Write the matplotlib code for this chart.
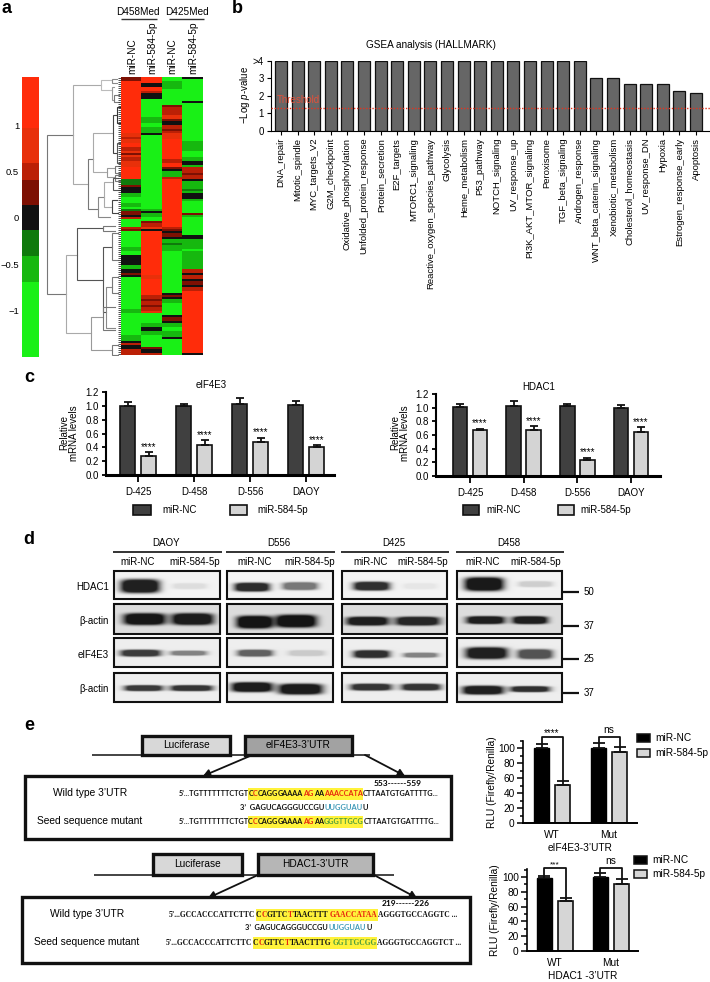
import numpy as np
import matplotlib
matplotlib.use('Agg')
import matplotlib.pyplot as plt
from matplotlib.colors import ListedColormap, BoundaryNorm
from matplotlib.patches import Rectangle
from matplotlib.font_manager import FontProperties, findfont, get_font
from matplotlib.ft2font import LoadFlags

plt.rcParams['font.family'] = ['Liberation Sans', 'DejaVu Sans']
plt.rcParams['mathtext.fontset'] = 'custom'
plt.rcParams['mathtext.it'] = 'Liberation Sans:italic'
plt.rcParams['mathtext.rm'] = 'Liberation Sans'
plt.rcParams['axes.unicode_minus'] = True

W, H = 710, 982
fig = plt.figure(figsize=(W / 100, H / 100), dpi=100)

# ---------------- data: panel a
R, r, m, d, k, g, G, L = 1.25, 0.8, 0.5, 0.3, 0.0, -0.3, -0.55, -1.0
heat_col1 = [(d,2),(R,26),(r,2),(m,1),(r,2),(R,2),(m,2),(r,1),(d,1),(r,1),(m,2),(r,3),(R,6),
             (g,3),(d,1),(k,3),(G,2),(L,3),(G,2),(L,1),(g,1),(d,2),(k,1),(m,1),(L,4),(m,1),(d,1),
             (L,8),(G,2),(L,2),(k,5),(G,2),(k,2),(d,1),(k,1),(L,16),(G,2),(L,11),(G,3),(k,1),(m,1),(k,2),(m,3)]
heat_col2 = [(R,3),(k,2),(R,2),(m,1),(k,3),(L,9),(G,3),(L,2),(G,3),(k,1),(L,37),(G,1),(k,1),(G,2),(L,2),
             (d,1),(m,2),(r,1),(k,1),(R,22),(r,2),(R,8),(m,2),(d,1),(m,2),(d,1),(m,2),(r,1),(L,5),(G,2),
             (k,2),(G,2),(L,6),(d,1),(k,2),(m,1)]
heat_col3 = [(L,2),(G,4),(L,2),(L,4),(L,2),(d,1),(m,4),(r,2),(d,1),(k,2),(m,2),(d,1),(m,1),(r,3),(R,10),(m,2),
             (R,2),(d,1),(k,1),(G,3),(m,1),(R,24),(m,1),(d,1),(k,1),(d,2),(k,1),(G,2),(g,1),(G,3),(L,21),(k,1),
             (d,1),(k,1),(G,2),(L,6),(k,1),(d,2),(k,1),(G,2),(L,2),(G,3),(k,1),(L,8)]
heat_col4 = [(k,1),(L,1),(L,10),(k,1),(L,19),(G,5),(L,3),(G,2),(k,2),(G,1),(m,3),(d,1),(m,2),(k,1),(G,1),(G,3),
             (g,1),(G,1),(k,3),(G,1),(L,6),(d,1),(G,1),(L,9),(k,2),(G,5),(L,1),(G,9),(m,2),(k,1),(m,2),(k,1),
             (d,2),(k,1),(m,2),(R,31),(k,1)]
heat_cols = [heat_col1, heat_col2, heat_col3, heat_col4]
cbar_edges = [-1.5, -0.69, -0.41, -0.13, 0.14, 0.41, 0.59, 0.97, 1.52]
cbar_colors = ['#19f016', '#16b80f', '#0f7a0c', '#111111', '#7d1003', '#bb2006', '#e8300a', '#ff2c0a']
cbar_ticks = [1, 0.5, 0, -0.5, -1]
cbar_labels = ['1', '0.5', '0', '\u22120.5', '\u22121']
heat_names = ['miR-NC', 'miR-584-5p', 'miR-NC', 'miR-584-5p']
# dendrogram brackets: parent height, top child y, bottom child y, top child height, bottom child height, shade
dendro = [(142,405,882,220,197,'#777777'),(220,255,553,303,265,'#aaaaaa'),(303,240,270,335,335,'#bbbbbb'),
          (335,236,248,352,352,'#888888'),(335,262,300,342,342,'#999999'),(342,285,305,358,358,'#777777'),
          (265,478,628,280,293,'#777777'),(280,400,515,340,320,'#aaaaaa'),(340,345,460,350,352,'#444444'),
          (350,320,370,360,360,'#333333'),(352,430,490,360,360,'#555555'),(320,505,530,345,345,'#999999'),
          (345,498,520,360,360,'#777777'),(345,525,542,360,360,'#777777'),(293,590,650,313,330,'#888888'),
          (313,545,620,340,335,'#aaaaaa'),(340,535,570,355,360,'#555555'),(335,600,640,350,355,'#444444'),
          (197,765,998,230,273,'#aaaaaa'),(230,685,840,310,310,'#555555'),(310,678,692,345,345,'#777777'),
          (310,740,935,335,318,'#555555'),(335,700,780,355,355,'#777777'),(318,860,985,335,345,'#888888'),
          (335,830,880,355,355,'#777777'),(273,950,1050,310,335,'#999999'),(310,920,990,345,345,'#777777'),
          (335,1035,1065,355,355,'#777777')]

# ---------------- data: panel b
gsea_names = ['DNA_repair','Mitotic_spindle','MYC_targets_V2','G2M_checkpoint','Oxidative_phosphorylation',
              'Unfolded_protein_response','Protein_secretion','E2F_targets','MTORC1_signaling',
              'Reactive_oxygen_species_pathway','Glycolysis','Heme_metabolism','P53_pathway','NOTCH_signaling',
              'UV_response_up','PI3K_AKT_MTOR_signaling','Peroxisome','TGF_beta_signaling','Androgen_response',
              'WNT_beta_catenin_signaling','Xenobiotic_metabolism','Cholesterol_homeostasis','UV_response_DN',
              'Hypoxia','Estrogen_response_early','Apoptosis']
gsea_vals = [4]*19 + [3.0, 3.0, 2.7, 2.7, 2.7, 2.28, 2.15]
threshold = 1.3

# ---------------- data: panel c
lines_c = ['D-425', 'D-458', 'D-556', 'DAOY']
eif_nc = [1.0, 1.0, 1.02, 1.01]
eif_nc_err = [0.05, 0.02, 0.09, 0.06]
eif_mir = [0.28, 0.43, 0.48, 0.41]
eif_mir_err = [0.05, 0.07, 0.06, 0.02]
hdac_nc = [1.01, 1.02, 1.02, 1.0]
hdac_nc_err = [0.05, 0.08, 0.04, 0.04]
hdac_mir = [0.67, 0.67, 0.24, 0.65]
hdac_mir_err = [0.02, 0.06, 0.03, 0.06]

# ---------------- data: panel e
rlu_groups = ['WT', 'Mut']
e_eif_nc, e_eif_nc_err = [100, 100], [6, 7]
e_eif_mir, e_eif_mir_err = [51, 95], [6, 7]
e_hdac_nc, e_hdac_nc_err = [99, 100], [3, 5]
e_hdac_mir, e_hdac_mir_err = [67, 91], [4, 6]

# ---------------- data: panel d, band darkness per blot (left, right, y, half width, half height, darkness)
blot_columns = ['DAOY', 'D556', 'D425', 'D458']
blot_rows = ['HDAC1', '\u03b2-actin', 'eIF4E3', '\u03b2-actin']
blot_x = [(114, 220), (227, 333), (342, 447), (457, 562)]
blot_y = [(571, 599), (604, 634), (638, 667), (673, 702)]
blot_bg = [0.95, 0.87, 0.93, 0.93]
bands = [
 [[(120,160,586,7,.82),(172,207,586,3,.08)],[(234,270,587,4.5,.78),(282,318,586,4,.48)],
  [(353,390,586,4.5,.76),(403,437,586,3,.05)],[(464,504,584,7,.85),(518,553,584,3,.14)]],
 [[(123,166,619,6,.78),(171,214,619,6,.76)],[(236,273,622,6.5,.8),(275,317,621,6.5,.8)],
  [(346,389,621,4.5,.75),(395,440,621,4.5,.72)],[(466,505,620,4,.75),(512,548,620,4,.75)]],
 [[(120,161,653,3.5,.7),(170,207,653,2.5,.42)],[(237,273,653,3.5,.55),(288,325,653,3,.14)],
  [(353,390,654,4,.74),(403,438,655,2.5,.42)],[(465,508,653,6,.8),(517,553,654,5,.6)]],
 [[(124,163,688,3,.7),(170,213,688,3,.72)],[(231,273,687,5,.82),(278,323,689,5.5,.82)],
  [(350,392,687,3.5,.72),(401,441,687,3.5,.72)],[(462,504,690,4.5,.8),(510,550,689,3,.74)]],
]

# ---------------- data: panel e sequences (text, colour, highlighted)
K, RD, GR, BL = '#111111', '#e8260f', '#4f9e3c', '#3f9ab8'
seq_e_wt = [("5\u2019...TGTTTTTTTCTGT",K,0),("C",K,1),("C",RD,1),("CAGG",K,1),("GAAAA",K,1),("AG",RD,1),("AA",K,1),
            ("AAACCATA",RD,1),("CTTAATGTGATTTTG...",K,0)]
seq_e_mu = [("5\u2019...TGTTTTTTTCTGT",K,0),("C",K,1),("C",RD,1),("CAGG",K,1),("GAAAA",K,1),("AG",RD,1),("AA",K,1),
            ("GGGTTGCG",GR,1),("CTTAATGTGATTTTG...",K,0)]
seq_mir = [("3\u2019  GAGUCAGGGUCCGU",K,0),("UUGGUAU",BL,0),("U",K,0)]
seq_h_wt = [("5\u2019...GCCACCCATTCTTC",K,0),("C",K,1),("C",RD,1),("GTTC",K,1),("T",RD,1),("TAACTTT",K,1),
            ("GAACCATAA",RD,1),("AGGGTGCCAGGTC ...",K,0)]
seq_h_mu = [("5\u2019...GCCACCCATTCTTC",K,0),("C",K,1),("C",RD,1),("GTTC",K,1),("T",RD,1),("TAACTTTG",K,1),
            ("GGTTGCGG",GR,1),("AGGGTGCCAGGTCT ...",K,0)]


def axpx(l, t, r, b, **kw):
    return fig.add_axes([l / W, 1 - b / H, (r - l) / W, (b - t) / H], **kw)


ov = axpx(0, 0, W, H, zorder=5)
ov.patch.set_alpha(0)
ov.axis('off')


def T(x, y, s, ha='center', va='center', size=7, **kw):
    return ov.text(x, y, s, ha=ha, va=va, fontsize=size, **kw)


def hline(x0, x1, y, lw=1.5, c='#222222'):
    ov.plot([x0, x1], [y, y], color=c, lw=lw, solid_capstyle='butt')


def box(x0, y0, x1, y1, fc='none', lw=2.2, ec='#111111', z=3):
    ov.add_patch(Rectangle((x0, y0), x1 - x0, y1 - y0, fc=fc, ec=ec, lw=lw, zorder=z))


for s, x, y in [('a', 6, 8), ('b', 237, 8), ('c', 29, 378), ('d', 29, 539), ('e', 29, 725)]:
    T(x, y, s, size=13, fontweight='bold')

# ---------------- panel a
cmap = ListedColormap(cbar_colors)
norm = BoundaryNorm(cbar_edges, cmap.N)
acb = axpx(22, 77, 39, 357)
centres = (np.array(cbar_edges[:-1]) + np.array(cbar_edges[1:])) / 2
acb.pcolormesh([0, 1], cbar_edges, centres.reshape(-1, 1), cmap=cmap, norm=norm)
acb.set_ylim(-1.5, 1.52)
acb.set_xticks([])
acb.set_yticks(cbar_ticks, cbar_labels, fontsize=6.8)
acb.tick_params(axis='y', length=0, pad=2)
for sp in acb.spines.values():
    sp.set_visible(False)

N_ROWS = 139
mat = []
for col in heat_cols:
    v = np.repeat([a for a, _ in col], [b for _, b in col])
    v = np.concatenate([v, np.full(max(0, N_ROWS - len(v)), v[-1])])[:N_ROWS]
    mat.append(v)
mat = np.array(mat).T
ah = axpx(121, 77, 203, 355)
ah.imshow(mat, cmap=cmap, norm=norm, aspect='auto', interpolation='nearest')
ah.axis('off')

ad = axpx(40, 77, 121, 356)
ad.set_xlim(120, 363)
ad.set_ylim(1068, 231)
ad.axis('off')
for x, yt, yb, xt, xb, c in dendro:
    ad.plot([xt, x, x, xb], [yt, yt, yb, yb], color=c, lw=0.8, solid_joinstyle='miter')
ad.hlines(232 + 6 * np.arange(N_ROWS) + 3, 354, 363, color='#333333', lw=0.6)

T(138, 12, 'D458Med', size=7.2)
T(187, 12, 'D425Med', size=7.2)
hline(121, 157, 19, 1.0, '#333333')
hline(169, 204, 19, 1.0, '#333333')
for x, s in zip([132, 152, 172, 193], heat_names):
    T(x, 74, s, va='bottom', rotation=90, size=7.2)

# ---------------- panel b
ab = axpx(271, 61, 710, 130.7)
xb = np.arange(len(gsea_vals))
ab.bar(xb, gsea_vals, width=0.72, color='#666666', edgecolor='#111111', linewidth=0.9)
ab.set_xlim(-0.6, 25.84)
ab.set_ylim(0, 4)
ab.axhline(threshold, color='#e3331f', lw=1.0, ls=(0, (1, 1.2)), zorder=4)
ab.text(-0.28, 1.78, 'Threshold', color='#e3503a', fontsize=7, va='center')
ab.set_yticks([0, 1, 2, 3, 4], ['0', '1', '2', '3', '>4'], fontsize=7)
ab.set_xticks(xb, gsea_names, rotation=90, fontsize=6.8)
ab.tick_params(axis='both', length=3, width=0.8, pad=2)
ab.set_title('GSEA analysis (HALLMARK)', fontsize=7.2, pad=9, x=0.365)
for s in ['top', 'right']:
    ab.spines[s].set_visible(False)
T(245, 95, '\u2212Log $p$-value', rotation=90, size=7)


# ---------------- panel c
def bars_c(box_px, title, nc, nce, mir, mire, xlim, off, star_off):
    ax = axpx(*box_px)
    x = np.arange(4)
    ax.bar(x - off, nc, 0.27, color='#404040', edgecolor='#111111', lw=1.2)
    ax.bar(x + off, mir, 0.27, color='#d4d4d4', edgecolor='#111111', lw=1.2)
    ax.errorbar(x - off, nc, yerr=[np.zeros(4), nce], fmt='none', ecolor='#111111', elinewidth=1.3, capsize=3, capthick=1.3)
    ax.errorbar(x + off, mir, yerr=[np.zeros(4), mire], fmt='none', ecolor='#111111', elinewidth=1.3, capsize=3, capthick=1.3)
    for i in range(4):
        ax.text(x[i] + off, mir[i] + mire[i] + star_off, '****', ha='center', va='center', fontsize=7)
    ax.set_xlim(*xlim)
    ax.set_ylim(0, 1.2)
    ax.set_yticks(np.arange(0, 1.21, 0.2), [f'{v:.1f}' for v in np.arange(0, 1.21, 0.2)], fontsize=7)
    ax.set_xticks(x, lines_c, fontsize=7)
    ax.tick_params(axis='y', length=3, width=1.3, pad=2)
    ax.tick_params(axis='x', length=5, width=1.3, pad=4)
    ax.set_title(title, fontsize=7, pad=3, x=0.46)
    for s in ['top', 'right']:
        ax.spines[s].set_visible(False)
    ax.spines['left'].set_linewidth(1.5)
    ax.spines['bottom'].set_linewidth(2.2)
    return ax


bars_c((106, 392, 334, 475), 'eIF4E3', eif_nc, eif_nc_err, eif_mir, eif_mir_err, (-0.58, 3.5), 0.188, 0.08)
bars_c((436, 394, 660, 476), 'HDAC1', hdac_nc, hdac_nc_err, hdac_mir, hdac_mir_err, (-0.633, 3.54), 0.186, 0.08)
T(69, 433, 'Relative\nmRNA levels', rotation=90, size=7, linespacing=1.05)
T(400, 433, 'Relative\nmRNA levels', rotation=90, size=7, linespacing=1.05)
for x0, x1, c, tx, s in [(133, 151, '#404040', 162, 'miR-NC'), (230, 247, '#d4d4d4', 257, 'miR-584-5p'),
                         (463, 479, '#404040', 486, 'miR-NC'), (558, 574, '#d4d4d4', 580, 'miR-584-5p')]:
    box(x0, 505, x1, 515, fc=c, lw=1.2)
    T(tx, 510, s, ha='left', size=7)

# ---------------- panel d
for j, (name, (x0, x1)) in enumerate(zip(blot_columns, blot_x)):
    T((x0 + x1) / 2 - 1, 543, name, size=7)
    hline(x0 - 1, x1 + 2, 552, 1.4, '#333333')
    for i, (y0, y1) in enumerate(blot_y):
        xs = np.arange(x0, x1, 0.25)
        ys = np.arange(y0, y1, 0.25)
        XX, YY = np.meshgrid(xs, ys)
        img = np.full(XX.shape, blot_bg[i], dtype=float)
        for a, b, yc, hh, dk in bands[i][j]:
            xc, hw = (a + b) / 2, (b - a) / 2
            core = np.exp(-(np.abs((XX - xc) / (hw * 0.95)) ** 4 + np.abs((YY - yc) / (hh * 0.95)) ** 4))
            img -= dk * np.clip(1.7 * core, 0, 1)
        ov.imshow(np.clip(img, 0.08, 1), cmap='gray', vmin=0, vmax=1, extent=(x0, x1, y1, y0),
                  aspect='auto', interpolation='bilinear', zorder=1)
        box(x0, y0, x1, y1, lw=1.5)
for x, s in zip([138, 195, 255, 310, 371, 423, 483, 536], ['miR-NC', 'miR-584-5p'] * 4):
    T(x, 562, s, size=7)
for y, s in zip([587, 621, 655, 689], blot_rows):
    T(109, y, s, ha='right', size=7)
for y, s in zip([592, 626, 659, 693], ['50', '37', '25', '37']):
    hline(563, 579, y, 1.6, '#111111')
    T(584, y, s, ha='left', size=7)

# ---------------- panel e: constructs
for (x0, x1, y0, y1, fc, s) in [(142, 230, 736, 755, '#d8d8d8', 'Luciferase'), (245, 352, 736, 755, '#a2a2a2', 'eIF4E3-3\u2019UTR'),
                                (153, 242, 854, 875, '#d8d8d8', 'Luciferase'), (258, 373, 854, 875, '#b6b6b6', 'HDAC1-3\u2019UTR')]:
    box(x0, y0, x1, y1, fc=fc, lw=2.4, z=4)
    T((x0 + x1) / 2, (y0 + y1) / 2 - 0.5, s, size=7.3, zorder=5)
hline(92, 370, 755, 1.1, '#111111')
hline(94, 394, 875, 1.1, '#111111')
for p0, p1 in [((250, 756), (203, 776)), ((365, 755), (405, 776)), ((258, 875), (208, 898)), ((374, 875), (417, 898))]:
    ov.annotate('', xy=p1, xytext=p0, arrowprops=dict(arrowstyle='-|>,head_width=0.22,head_length=0.4', color='#111111',
                                                     lw=1.3, shrinkA=0, shrinkB=0), zorder=6)
box(25, 776, 451, 839, lw=2.4)
box(22, 897, 470, 963, lw=2.4)
T(90, 793, 'Wild type 3\u2019UTR', size=7.4)
T(89.5, 821, 'Seed sequence mutant', size=7.4)
T(87, 914, 'Wild type 3\u2019UTR', size=7.4)
T(87, 942, 'Seed sequence mutant', size=7.4)
T(397.5, 783, '553------559', size=6, family='Lato', fontweight='bold')
T(405.5, 903, '219------226', size=6, family='Lato', fontweight='bold')


def seq(segs, x0, x1, y, family, hl_h=12):
    fp = FontProperties(family=family, weight='bold')
    font = get_font(findfont(fp))
    font.set_size(10, 100)
    adv = lambda s: sum(font.load_char(ord(c), flags=LoadFlags.NO_HINTING).linearHoriAdvance / 65536 for c in s)
    total = sum(adv(s) for s, _, _ in segs)
    size = 10 * (x1 - x0) / total
    scale = size / 10
    x = x0
    for s, c, hl in segs:
        w = adv(s) * scale
        if hl:
            ov.add_patch(Rectangle((x, y - hl_h / 2), w, hl_h, fc='#fff23a', ec='none', zorder=1.5))
        ov.text(x, y, s, color=c, fontsize=size, family=family, fontweight='bold', ha='left', va='center', zorder=2)
        x += w


seq(seq_e_wt, 179, 438, 794, 'Lato')
seq(seq_mir, 240, 368, 808, 'Lato')
seq(seq_e_mu, 178.5, 439, 822, 'Lato')
seq(seq_h_wt, 169, 458, 915, 'Liberation Serif')
seq(seq_mir, 245, 372, 928, 'Lato')
seq(seq_h_mu, 166, 462, 943, 'Liberation Serif')


# ---------------- panel e: bars
def bars_e(box_px, nc, nce, mir, mire, xlim, off, ymax, top, sig, sig_size, xlabel):
    ax = axpx(*box_px)
    x = np.arange(2)
    ax.bar(x - off, nc, 0.263, color='#000000', edgecolor='#000000', lw=1)
    ax.bar(x + off, mir, 0.263, color='#d6d6d6', edgecolor='#111111', lw=1.2)
    ax.errorbar(x - off, nc, yerr=[np.zeros(2), nce], fmt='none', ecolor='#111111', elinewidth=1.3, capsize=4, capthick=1.3)
    ax.errorbar(x + off, mir, yerr=[np.zeros(2), mire], fmt='none', ecolor='#111111', elinewidth=1.3, capsize=4, capthick=1.3)
    for i in range(2):
        ax.plot([x[i] - off, x[i] - off, x[i] + off, x[i] + off],
                [nc[i] + nce[i], top, top, mir[i] + mire[i]], color='#111111', lw=1.3, clip_on=False)
        ax.text(x[i], top + (3 if sig[i] == 'ns' else 5), sig[i], ha='center', va='bottom' if sig[i] == 'ns' else 'center',
                fontsize=7.3 if sig[i] == 'ns' else sig_size, clip_on=False)
    ax.set_xlim(*xlim)
    ax.set_ylim(0, ymax)
    ax.set_yticks(np.arange(0, 101, 20))
    ax.set_yticks(np.arange(0, 111, 10), minor=True)
    ax.tick_params(axis='y', which='major', length=4, width=1.1, labelsize=7.3, pad=2)
    ax.tick_params(axis='y', which='minor', length=2.5, width=1.1)
    ax.set_xticks(x, rlu_groups, fontsize=7.3)
    ax.tick_params(axis='x', length=0, pad=5)
    ax.set_xlabel(xlabel, fontsize=7.3, labelpad=2.5)
    for s in ['top', 'right']:
        ax.spines[s].set_visible(False)
    ax.spines['left'].set_linewidth(1.2)
    ax.spines['bottom'].set_linewidth(1.4)


bars_e((523, 741, 637, 823), e_eif_nc, e_eif_nc_err, e_eif_mir, e_eif_mir_err, (-0.509, 1.49), 0.184, 109.3, 115,
       ['****', 'ns'], 7, 'eIF4E3-3\u2019UTR')
bars_e((527, 869, 638, 951), e_hdac_nc, e_hdac_nc_err, e_hdac_mir, e_hdac_mir_err, (-0.5, 1.482), 0.188, 110.8, 112,
       ['***', 'ns'], 6, 'HDAC1 -3\u2019UTR')
T(492, 782, 'RLU (Firefly/Renilla)', rotation=90, size=7.3)
T(495, 910, 'RLU (Firefly/Renilla)', rotation=90, size=7.3)
for x0, x1, tx, y, c, s in [(637, 650, 655, 738, '#000000', 'miR-NC'), (637, 650, 655, 753, '#d6d6d6', 'miR-584-5p'),
                            (634, 647, 652, 860, '#000000', 'miR-NC'), (634, 647, 652, 874, '#d6d6d6', 'miR-584-5p')]:
    box(x0, y - 4, x1, y + 4, fc=c, lw=1.1)
    T(tx, y, s, ha='left', size=7.3)

ov.set_xlim(0, W)
ov.set_ylim(H, 0)
fig.savefig('out.png', dpi=100)
